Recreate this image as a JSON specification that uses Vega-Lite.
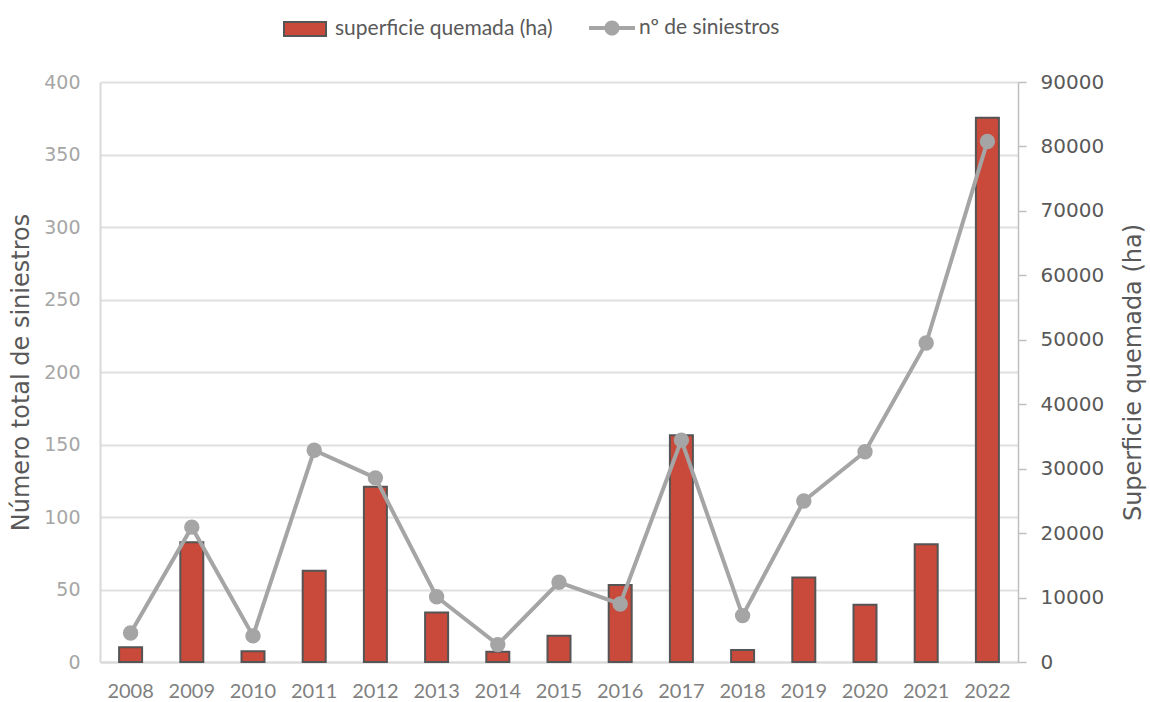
{
  "$schema": "https://vega.github.io/schema/vega-lite/v6.json",
  "width": 918,
  "height": 580,
  "autosize": "none",
  "padding": {"left": 100, "top": 82, "right": 132, "bottom": 40},
  "background": "white",
  "config": {"view": {"stroke": null}, "legend": {"padding": 0}},
  "data": {"values": [
    {"year": "2008", "siniestros": 20, "ha": 2280},
    {"year": "2009", "siniestros": 93, "ha": 18570},
    {"year": "2010", "siniestros": 18, "ha": 1650},
    {"year": "2011", "siniestros": 146, "ha": 14170},
    {"year": "2012", "siniestros": 127, "ha": 27200},
    {"year": "2013", "siniestros": 45, "ha": 7700},
    {"year": "2014", "siniestros": 12, "ha": 1600},
    {"year": "2015", "siniestros": 55, "ha": 4090},
    {"year": "2016", "siniestros": 40, "ha": 11950},
    {"year": "2017", "siniestros": 153, "ha": 35170},
    {"year": "2018", "siniestros": 32, "ha": 1860},
    {"year": "2019", "siniestros": 111, "ha": 13110},
    {"year": "2020", "siniestros": 145, "ha": 8900},
    {"year": "2021", "siniestros": 220, "ha": 18260},
    {"year": "2022", "siniestros": 359, "ha": 84470}
  ]},
  "encoding": {
    "x": {
      "field": "year", "type": "ordinal",
      "scale": {"paddingInner": 0, "paddingOuter": 0},
      "axis": {
        "title": null, "labelAngle": 0, "ticks": false,
        "domainColor": "#d9d9d9", "domainWidth": 2,
        "labelFont": "Lato", "labelFontSize": 20, "labelColor": "#7f7f7f",
        "labelPadding": 19
      }
    }
  },
  "layer": [
    {
      "mark": {"type": "bar", "width": 23, "stroke": "#555555", "strokeWidth": 2},
      "encoding": {
        "y": {
          "field": "ha", "type": "quantitative",
          "scale": {"domain": [0, 90000], "nice": false},
          "axis": {
            "orient": "right", "title": "Superficie quemada (ha)",
            "values": [0, 10000, 20000, 30000, 40000, 50000, 60000, 70000, 80000, 90000],
            "format": "d", "grid": false,
            "domainColor": "#bfbfbf", "domainWidth": 1.5,
            "tickColor": "#bfbfbf", "tickSize": 8, "tickWidth": 1.5,
            "labelFont": "DejaVu Sans", "labelFontSize": 20, "labelColor": "#595959",
            "labelPadding": 14,
            "titleFont": "DejaVu Sans", "titleFontSize": 24, "titleFontWeight": "normal",
            "titleColor": "#595959", "titlePadding": 42, "titleAngle": 270
          }
        },
        "fill": {
          "datum": "superficie quemada (ha)",
          "scale": {"domain": ["superficie quemada (ha)"], "range": ["#C9493A"]},
          "legend": {
            "title": null, "orient": "none",
            "legendX": 190, "legendY": -68,
            "labelFont": "Lato", "labelFontSize": 21, "labelColor": "#595959",
            "labelLimit": 400, "labelOffset": 15,
            "symbolSize": 784, "symbolType": "M-1.5,-0.5H1.5V0.5H-1.5Z",
            "symbolStrokeColor": "#555555", "symbolStrokeWidth": 2
          }
        }
      }
    },
    {
      "mark": {"type": "line", "strokeWidth": 4, "point": {"size": 180, "filled": true, "fill": "#A5A5A5", "opacity": 1}},
      "encoding": {
        "y": {
          "field": "siniestros", "type": "quantitative",
          "scale": {"domain": [0, 400], "nice": false},
          "axis": {
            "orient": "left", "title": "Número total de siniestros",
            "values": [0, 50, 100, 150, 200, 250, 300, 350, 400],
            "ticks": false, "grid": true, "gridColor": "#e0e0e0", "gridWidth": 2,
            "domainColor": "#d9d9d9", "domainWidth": 2,
            "labelFont": "DejaVu Sans", "labelFontSize": 19, "labelColor": "#a6a6a6",
            "labelPadding": 20,
            "titleFont": "DejaVu Sans", "titleFontSize": 24, "titleFontWeight": "normal",
            "titleColor": "#595959", "titlePadding": 10
          }
        },
        "stroke": {
          "datum": "nº de siniestros",
          "scale": {"domain": ["nº de siniestros"], "range": ["#A5A5A5"]},
          "legend": {
            "title": null, "orient": "none",
            "legendX": 498, "legendY": -68,
            "labelFont": "Lato", "labelFontSize": 21, "labelColor": "#595959",
            "labelLimit": 400, "labelOffset": 13,
            "symbolSize": 784,
            "symbolType": "M-1.64,-0.14H1.64V0.14H-1.64Z M0.54,0A0.54,0.54 0 1 1 -0.54,0A0.54,0.54 0 1 1 0.54,0Z",
            "symbolFillColor": "#A5A5A5", "symbolStrokeWidth": 0
          }
        }
      }
    }
  ],
  "resolve": {"scale": {"y": "independent"}}
}
